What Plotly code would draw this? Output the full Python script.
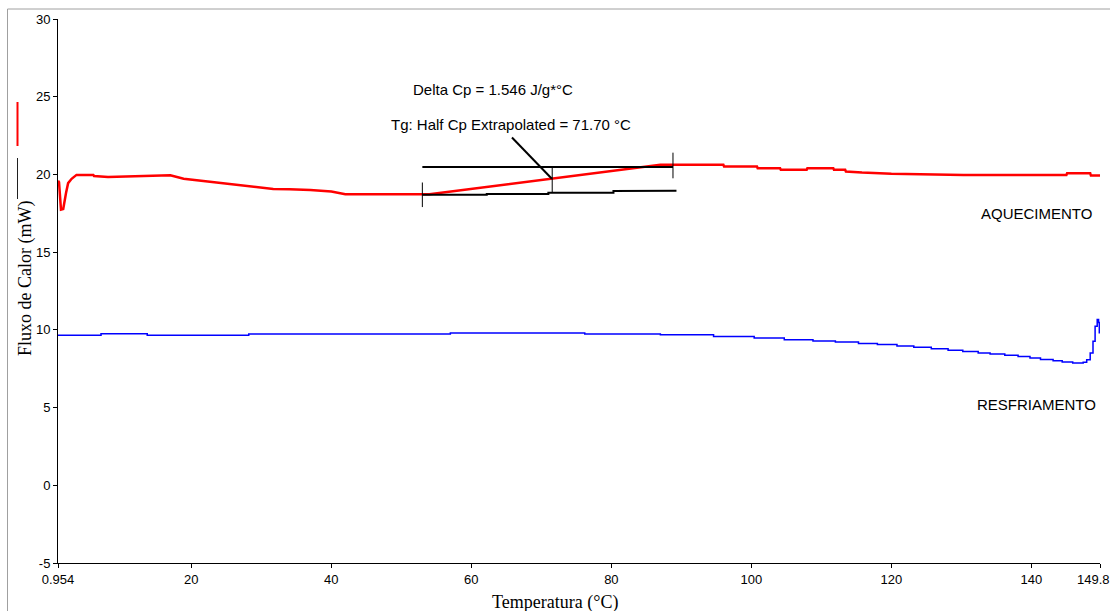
import plotly.graph_objects as go

# ---- data ----
heat_x = [0.954, 1.1, 1.38, 1.7, 2.1, 2.4, 2.9, 3.6, 6.0, 6.1, 8.1, 14.3, 17.0, 18.9, 21.2, 23.6, 26.0,
          28.9, 31.7, 34.0, 37.0, 40.0, 42.0, 54.0, 62.0, 71.7, 80.0, 87.0, 96.0, 96.1, 100.8, 100.9,
          104.1, 104.2, 107.9, 108.0, 111.7, 111.8, 113.4, 113.5, 115.8, 120.0, 130.3, 145.0, 145.1,
          148.4, 148.5, 149.8]
heat_y = [19.6, 19.5, 17.73, 17.77, 18.8, 19.44, 19.72, 19.97, 19.97, 19.9, 19.83, 19.9, 19.95, 19.72,
          19.61, 19.5, 19.38, 19.22, 19.07, 19.05, 19.0, 18.9, 18.72, 18.72, 19.18, 19.75, 20.22, 20.62,
          20.62, 20.51, 20.51, 20.4, 20.4, 20.3, 20.3, 20.4, 20.4, 20.3, 20.3, 20.19, 20.12, 20.04,
          19.97, 19.97, 20.08, 20.08, 19.93, 19.93]

cool_x = [0.954, 7.1, 13.7, 28.2, 57.0, 76.2, 87.0, 94.6, 100.4, 104.7, 108.8, 112.0, 115.3, 118.0,
          120.8, 123.2, 125.7, 128.1, 130.2, 132.4, 134.1, 136.2, 138.1, 139.8, 141.3, 143.1, 144.4,
          145.9, 147.4, 147.9, 148.4, 148.8, 149.1, 149.4, 149.6, 149.7]
cool_y = [9.65, 9.75, 9.65, 9.73, 9.8, 9.73, 9.68, 9.58, 9.48, 9.37, 9.29, 9.22, 9.13, 9.05, 8.96,
          8.88, 8.79, 8.68, 8.6, 8.51, 8.45, 8.36, 8.28, 8.19, 8.1, 8.02, 7.94, 7.87, 7.91, 8.08,
          8.51, 9.26, 10.23, 10.66, 10.48, 9.76]

# tangent construction (Tg analysis)
upper_x = [53.0, 88.8]
upper_y = [20.47, 20.47]
lower_x = [53.0, 62.2, 62.2, 71.0, 71.0, 80.3, 80.3, 89.3]
lower_y = [18.69, 18.69, 18.74, 18.74, 18.82, 18.82, 18.93, 18.95]
left_tick_x = [53.0, 53.0]
left_tick_y = [19.48, 17.9]
right_tick_x = [88.8, 88.8]
right_tick_y = [21.4, 19.75]
tg_x = [71.55, 71.55]
tg_y = [20.47, 18.84]
pointer_x = [65.8, 71.5]
pointer_y = [22.38, 19.72]

x_ticks = [0.954, 20, 40, 60, 80, 100, 120, 140, 149.8]
x_ticklabels = ["0.954", "20", "40", "60", "80", "100", "120", "140", "149.8"]
y_ticks = [-5, 0, 5, 10, 15, 20, 25, 30]
y_ticklabels = ["-5", "0", "5", "10", "15", "20", "25", "30"]

W, H = 1114, 611
L, R, T, B = 58, 14, 19, 48
PW, PH = W - L - R, H - T - B


def px(x):
    return (x - L) / PW


def py(y):
    return 1 - (y - T) / PH


fig = go.Figure()

fig.add_trace(go.Scatter(x=cool_x, y=cool_y, mode="lines", line=dict(color="#0000ff", width=1.5, shape="hv"),
                         showlegend=False, hoverinfo="skip"))
fig.add_trace(go.Scatter(x=heat_x, y=heat_y, mode="lines", line=dict(color="#ff0000", width=2.5),
                         showlegend=False, hoverinfo="skip"))

for xs, ys, w in [(upper_x, upper_y, 2), (lower_x, lower_y, 2), (left_tick_x, left_tick_y, 1),
                  (right_tick_x, right_tick_y, 1), (tg_x, tg_y, 1), (pointer_x, pointer_y, 2)]:
    fig.add_trace(go.Scatter(x=xs, y=ys, mode="lines", line=dict(color="black", width=w),
                             showlegend=False, hoverinfo="skip"))

txt_font = dict(family="Liberation Sans, Arial", size=15, color="black")
for x, y, t in [(493, 89, "Delta Cp = 1.546 J/g*°C"), (511, 125, "Tg: Half Cp Extrapolated = 71.70 °C"),
                (1036, 213, "AQUECIMENTO"), (1036, 404, "RESFRIAMENTO")]:
    fig.add_annotation(x=px(x), y=py(y), xref="paper", yref="paper", text=t, showarrow=False, font=txt_font,
                       xanchor="center", yanchor="middle")

tick_font = dict(family="Liberation Sans, Arial", size=13, color="black")
# last x tick label drawn as text so it stays inside the page edge
fig.add_annotation(x=x_ticks[-1], xref="x", y=py(579), yref="paper", text=x_ticklabels[-1], showarrow=False,
                   font=tick_font, xanchor="right", yanchor="middle", xshift=12)

title_font = dict(family="Liberation Serif, Times New Roman", size=18, color="black")
fig.add_annotation(x=px(555), y=py(602), xref="paper", yref="paper", text="Temperatura (°C)",
                   showarrow=False, font=title_font, xanchor="center", yanchor="middle")
fig.add_annotation(x=px(25), y=py(279), xref="paper", yref="paper", text="Fluxo de Calor (mW)",
                   showarrow=False, font=title_font, textangle=-90, xanchor="center", yanchor="middle")

# frame and truncated legend marks
frame = dict(color="#a0a0a0", width=1)
fig.add_shape(type="line", xref="paper", yref="paper", x0=px(7.5), x1=px(7.5), y0=py(9), y1=py(620), line=frame)
fig.add_shape(type="line", xref="paper", yref="paper", x0=px(7.5), x1=px(1110), y0=py(9), y1=py(9), line=frame)
fig.add_shape(type="line", xref="paper", yref="paper", x0=px(17.5), x1=px(17.5), y0=py(102), y1=py(146),
              line=dict(color="#ff0000", width=2))
fig.add_shape(type="line", xref="paper", yref="paper", x0=px(17.5), x1=px(17.5), y0=py(158), y1=py(199),
              line=dict(color="#202020", width=1))

fig.update_layout(
    width=W, height=H,
    margin=dict(l=L, r=R, t=T, b=B, autoexpand=False),
    paper_bgcolor="white", plot_bgcolor="white",
    showlegend=False,
    xaxis=dict(range=[0.954, 149.8], tickvals=x_ticks, ticktext=x_ticklabels[:-1] + [""],
               showgrid=False, zeroline=False,
               showline=True, linecolor="black", linewidth=1, ticks="outside", ticklen=4, tickcolor="black",
               tickfont=tick_font, ticklabeloverflow="allow", automargin=False),
    yaxis=dict(range=[-5, 30], tickvals=y_ticks, ticktext=y_ticklabels, showgrid=False, zeroline=False,
               showline=True, linecolor="black", linewidth=1, ticks="outside", ticklen=4, tickcolor="black",
               tickfont=tick_font, ticklabeloverflow="allow", automargin=False),
)

fig.write_html("out.html")
